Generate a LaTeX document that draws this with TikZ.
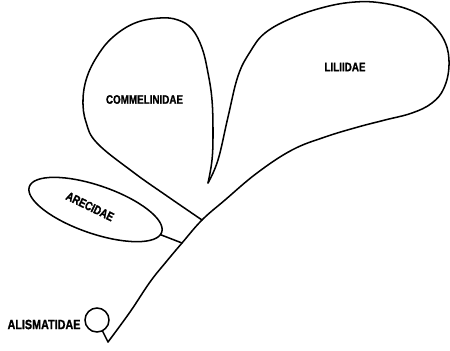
\documentclass[tikz,border=0pt]{standalone}
\usepackage{fontspec}
\newfontfamily\taxfont{Liberation Sans}[UprightFont={* Bold}, FakeStretch=0.8, FakeBold=1.2]
\usetikzlibrary{shapes.geometric}
\tikzset{
    outline/.style={line width=1.3pt, line join=round, line cap=round},
    taxon/.style={font=\taxfont\fontsize{10.5}{10.5}\selectfont, inner sep=0pt},
    bubble/.style={ellipse, draw, line width=1.3pt, inner sep=0pt, outer sep=0pt, minimum width=42mm, minimum height=14.4mm},
    knob/.style={circle, draw, line width=1.3pt, inner sep=0pt, outer sep=0pt, minimum size=7.2mm}
}

\begin{document}
\begin{tikzpicture}[x=0.3mm, y=-0.3mm]
    \useasboundingbox (0,0) rectangle (450,350);

    \coordinate (base) at (108,342);
    \coordinate (aJ) at (182,243);
    \coordinate (cJ) at (202,220);
    \coordinate (tip) at (208,183);

    \draw[outline] plot[smooth, tension=0.65] coordinates {(base) (130,312) (150,282) (166,262) (aJ) (cJ) (225,200) (257,173) (292,150) (325,137) (358,127) (385,120) (412,113) (432,103) (444,88) (449,65) (445,42) (430,22) (410,10) (382,3) (355,2) (325,7) (292,18) (265,33) (250,52) (238,76) (228,117) (218,160) (tip)};
    \draw[outline] plot[smooth, tension=0.65] coordinates {(tip) (212,160) (213,133) (212,100) (208,73) (202,48) (192,29) (178,20) (160,18) (135,23) (113,37) (98,55) (87,77) (83,100) (86,122) (97,143) (133,172) (167,196) (cJ)};

    \node[bubble, rotate=-19] (are) at (95.5,209.5) {};
    \node[knob] (ali) at (97,320) {};
    \draw[outline] (are) -- (aJ);
    \draw[outline] (ali) -- (base);

    \node[taxon] (comL) at (144.5,99.5) {COMMELINIDAE};
    \node[taxon] (lilL) at (345,67) {LILIIDAE};
    \node[taxon, rotate=-26] (areL) at (90,206.5) {ARECIDAE};
    \node[taxon, font=\taxfont\fontsize{11.5}{11.5}\selectfont] (aliL) at (44,324.5) {ALISMATIDAE};
\end{tikzpicture}
\end{document}
